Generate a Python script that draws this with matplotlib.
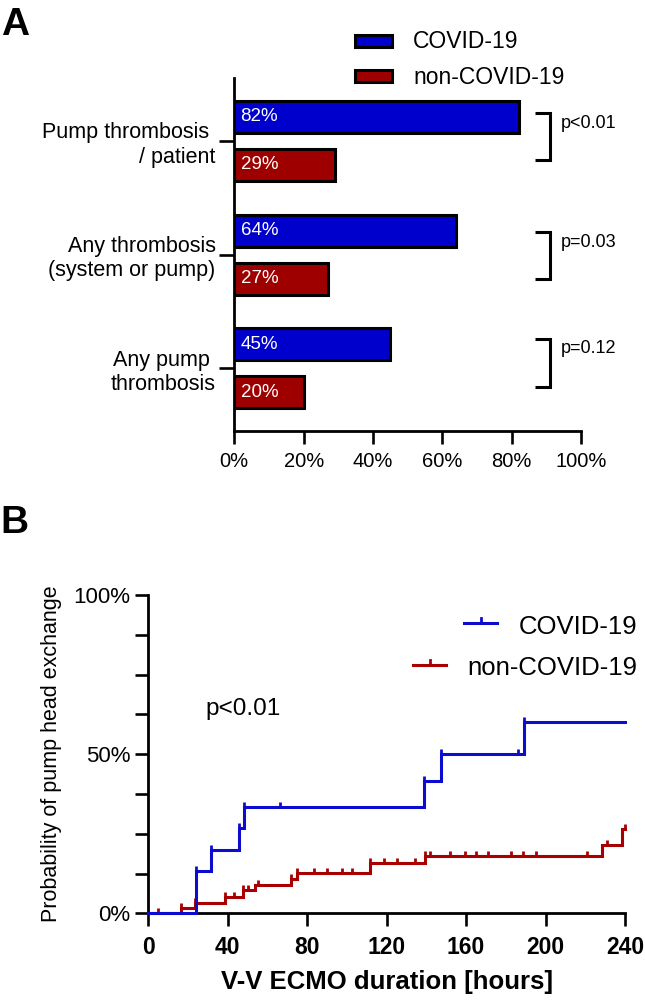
import numpy as np
import matplotlib
matplotlib.use('Agg')
import matplotlib.pyplot as plt
from matplotlib.path import Path
from matplotlib.patches import Rectangle
from matplotlib.lines import Line2D

plt.rcParams['font.family'] = ['Liberation Sans', 'DejaVu Sans']

# ---------------- Panel A data ----------------
categories = ['Pump thrombosis \n/ patient', 'Any thrombosis\n(system or pump)', 'Any pump \nthrombosis']
covid_pct = [82, 64, 45]
noncovid_pct = [29, 27, 20]
p_values = ['p<0.01', 'p=0.03', 'p=0.12']
xticks_a = [0, 20, 40, 60, 80, 100]
series_names = ['COVID-19', 'non-COVID-19']

# ---------------- Panel B data ----------------
covid_times = [0, 24, 31.5, 45.7, 48.2, 139, 147.5, 189, 240]
covid_cum = [0, 13.3, 20, 26.7, 33.3, 41.7, 50, 60, 60]
covid_censor = [24, 31.5, 45.7, 48.2, 66.5, 139, 147.5, 186, 189]
non_times = [0, 16.5, 23.5, 38.5, 47.7, 53.5, 71.8, 75, 111.8, 139.3, 228.5, 238.5, 240]
non_cum = [0, 1.8, 3.3, 5.1, 7.2, 8.8, 10.9, 12.7, 15.9, 18.0, 21.4, 26.5, 26.5]
non_censor = [4.8, 16.5, 23.5, 38.5, 43.2, 47.7, 50, 55, 71.8, 75, 83.5, 90.2, 97.7,
              102.7, 111.8, 118.5, 125.2, 134.3, 139.3, 141.7, 151.8, 159.3, 165, 171,
              182.7, 188.5, 195, 221, 231, 240]
xticks_b = [0, 40, 80, 120, 160, 200, 240]
yticks_b = [0, 50, 100]
yminor_b = [12.5, 25, 37.5, 62.5, 75, 87.5]

# ---------------- styles ----------------
BLUE_BAR = '#0000CC'
RED_BAR = '#9E0000'
BLUE_LINE = '#0C0CD0'
RED_LINE = '#A80000'
W, H = 645, 1000


def fx(x):
    return x / W


def fy(y):
    return 1 - y / H


fig = plt.figure(figsize=(6.45, 10), dpi=100)

# ================= Panel A =================
ax = fig.add_axes([fx(234.3), fy(430.7), (581 - 234.3) / W, (430.7 - 78) / H])
ypos = np.arange(len(categories))
off = 0.211
bh = 0.28
ax.barh(ypos - off, covid_pct, height=bh, color=BLUE_BAR, edgecolor='black', linewidth=2.2, zorder=3)
ax.barh(ypos + off, noncovid_pct, height=bh, color=RED_BAR, edgecolor='black', linewidth=2.2, zorder=3)
for i in range(len(categories)):
    ax.text(1.8, ypos[i] - off, f'{covid_pct[i]}%', color='white', fontsize=13.5,
            va='center', ha='left', zorder=4)
    ax.text(1.8, ypos[i] + off, f'{noncovid_pct[i]}%', color='white', fontsize=13.5,
            va='center', ha='left', zorder=4)

br_top = [-0.244, -0.20, -0.255]
br_bot = [0.167, 0.215, 0.162]
p_off = [-0.158, -0.11, -0.176]
for i in range(len(categories)):
    yt, yb = ypos[i] + br_top[i], ypos[i] + br_bot[i]
    ax.plot([86.7, 91.0, 91.0, 86.7], [yt, yt, yb, yb], color='black', lw=2.2,
            clip_on=False, solid_joinstyle='miter', solid_capstyle='butt')
    ax.text(94.3, ypos[i] + p_off[i], p_values[i], fontsize=13, va='center', ha='left')

ax.set_xlim(0, 100)
ax.set_ylim(2.549, -0.554)
ax.set_xticks(xticks_a)
ax.set_xticklabels([f'{v}%' for v in xticks_a], fontsize=14.5)
ax.set_yticks(ypos)
ax.set_yticklabels(categories, fontsize=15.5)
ax.tick_params(axis='x', direction='out', length=9, width=1.9, pad=6.5)
ax.tick_params(axis='y', direction='out', length=10.5, width=1.9, pad=3)
for s in ['top', 'right']:
    ax.spines[s].set_visible(False)
for s in ['left', 'bottom']:
    ax.spines[s].set_linewidth(2.0)

# legend A (manual)
for (yt, col, name, base) in [(35, BLUE_BAR, series_names[0], 48.3), (70, RED_BAR, series_names[1], 84)]:
    fig.patches.append(Rectangle((fx(355), fy(yt + 12)), 37 / W, 12 / H, facecolor=col,
                                 edgecolor='black', linewidth=2.2, transform=fig.transFigure, figure=fig))
    fig.text(fx(413), fy(base), name, fontsize=16.5, va='baseline', ha='left')

fig.text(fx(1), fy(35), 'A', fontsize=28, fontweight='bold', va='baseline', ha='left')
fig.text(fx(0), fy(533), 'B', fontsize=28, fontweight='bold', va='baseline', ha='left')

# ================= Panel B =================
bx = fig.add_axes([fx(148.3), fy(913.3), (625 - 148.3) / W, (913.3 - 595) / H])


def km_at(times, vals, t):
    idx = np.searchsorted(np.asarray(times), np.asarray(t), side='right') - 1
    return np.asarray(vals)[idx]


tick_marker = Path([(0, 0), (0, 1)], [Path.MOVETO, Path.LINETO])

bx.step(covid_times, covid_cum, where='post', color=BLUE_LINE, lw=2.2, clip_on=False, zorder=4,
        solid_joinstyle='miter')
bx.plot(covid_censor, km_at(covid_times, covid_cum, covid_censor), ls='none', marker=tick_marker,
        ms=7.5, mew=2.0, color=BLUE_LINE, clip_on=False, zorder=4)
bx.step(non_times, non_cum, where='post', color=RED_LINE, lw=2.2, clip_on=False, zorder=3,
        solid_joinstyle='miter')
bx.plot(non_censor, km_at(non_times, non_cum, non_censor), ls='none', marker=tick_marker,
        ms=7.5, mew=2.0, color=RED_LINE, clip_on=False, zorder=3)

bx.set_xlim(0, 240)
bx.set_ylim(0, 100)
bx.set_xticks(xticks_b)
bx.set_xticklabels([str(v) for v in xticks_b], fontsize=16.5, fontweight='bold')
bx.set_yticks(yticks_b)
bx.set_yticklabels([f'{v}%' for v in yticks_b], fontsize=16)
bx.set_yticks(yminor_b, minor=True)
bx.tick_params(axis='x', direction='out', length=9.3, width=1.9, pad=7)
bx.tick_params(axis='y', which='both', direction='out', length=9.3, width=1.9, pad=3.6)
for s in ['top', 'right']:
    bx.spines[s].set_visible(False)
for s in ['left', 'bottom']:
    bx.spines[s].set_linewidth(2.0)

bx.set_xlabel('V-V ECMO duration [hours]', fontsize=18.5, fontweight='bold')
bx.xaxis.set_label_coords(0.5, -0.178)
bx.set_ylabel('Probability of pump head exchange', fontsize=15.5)
bx.yaxis.set_label_coords(-0.181, 0.5)

bx.text(28.7, 64.2, 'p<0.01', fontsize=17.5, va='center', ha='left')

# legend B (manual, right-aligned text)
fig.canvas.draw()
rend = fig.canvas.get_renderer()
for (col, name, base, liney) in [(BLUE_LINE, series_names[0], 634, 623.3), (RED_LINE, series_names[1], 675, 665)]:
    t = fig.text(fx(637), fy(base), name, fontsize=18.5, va='baseline', ha='right')
    bb = t.get_window_extent(renderer=rend)
    right = bb.x0 - 21
    left = right - 33
    fig.add_artist(Line2D([left / W, right / W], [fy(liney), fy(liney)], color=col, lw=2.2,
                          transform=fig.transFigure))
    cx = (left + right) / 2
    fig.add_artist(Line2D([cx / W, cx / W], [fy(liney), fy(liney - 5)], color=col, lw=2.0,
                          transform=fig.transFigure))

fig.savefig('out.png', dpi=100)
